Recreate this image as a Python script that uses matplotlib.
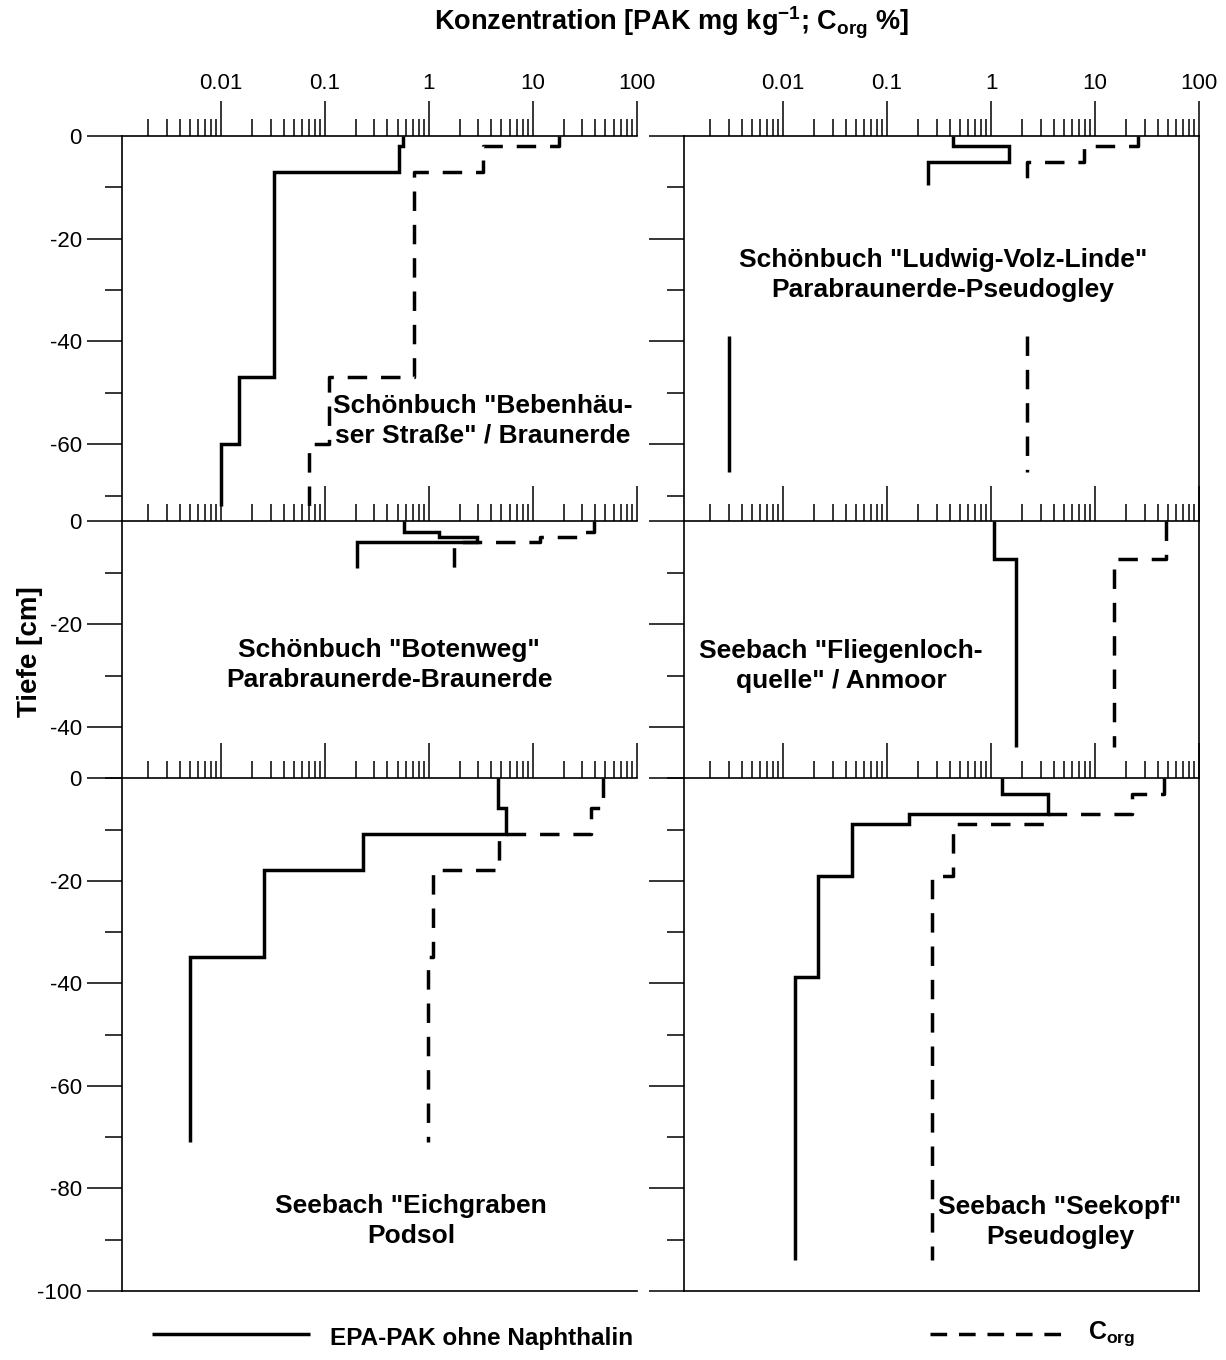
import numpy as np
import matplotlib
matplotlib.use("Agg")
import matplotlib.pyplot as plt
from matplotlib.lines import Line2D
from matplotlib.ticker import LogLocator, MultipleLocator, FuncFormatter, NullFormatter

plt.rcParams['font.family'] = ['Liberation Sans', 'DejaVu Sans']
plt.rcParams['mathtext.fontset'] = 'custom'
plt.rcParams['mathtext.rm'] = 'Liberation Sans'
plt.rcParams['mathtext.bf'] = 'Liberation Sans:bold'
plt.rcParams['lines.scale_dashes'] = False

# ---- soil profiles: horizon boundaries [cm] and concentrations ----
# Schönbuch "Bebenhäuser Straße" / Braunerde
beb_depth = [0, -2, -7, -47, -60, -72]
beb_pak = [0.57, 0.52, 0.032, 0.015, 0.010]
beb_corg = [17.9, 3.3, 0.72, 0.11, 0.070]

# Schönbuch "Ludwig-Volz-Linde" / Parabraunerde-Pseudogley (two sampled sections)
lvl_depth_top = [0, -2, -5, -9.5]
lvl_pak_top = [0.43, 1.48, 0.245]
lvl_corg_top = [25.8, 7.8, 2.2]
lvl_depth_deep = [-39, -65.5]
lvl_pak_deep = [0.0030]
lvl_corg_deep = [2.2]

# Schönbuch "Botenweg" / Parabraunerde-Braunerde
bot_depth = [0, -2, -3, -4, -9]
bot_pak = [0.58, 1.26, 2.9, 0.205]
bot_corg = [39.0, 28.6, 11.8, 1.75]

# Seebach "Fliegenlochquelle" / Anmoor
fli_depth = [0, -7.4, -44]
fli_pak = [1.06, 1.75]
fli_corg = [48.0, 15.1]

# Seebach "Eichgraben" / Podsol
eic_depth = [0, -5.8, -10.9, -17.9, -34.9, -71]
eic_pak = [4.65, 5.5, 0.233, 0.026, 0.0050]
eic_corg = [47.3, 36.3, 4.75, 1.09, 0.985]

# Seebach "Seekopf" / Pseudogley
see_depth_pak = [0, -3, -6.9, -9, -19, -38.8, -94]
see_pak = [1.28, 3.51, 0.164, 0.046, 0.0218, 0.0131]
see_depth_corg = [0, -3, -6.9, -9, -19, -94]
see_corg = [46.0, 22.5, 3.51, 0.433, 0.272]

panel_titles = [
    'Schönbuch "Bebenhäu-\nser Straße" / Braunerde',
    'Schönbuch "Ludwig-Volz-Linde"\nParabraunerde-Pseudogley',
    'Schönbuch "Botenweg"\nParabraunerde-Braunerde',
    'Seebach "Fliegenloch-\nquelle" / Anmoor',
    'Seebach "Eichgraben\nPodsol',
    'Seebach "Seekopf"\nPseudogley',
]
row_depths = [75, 50, 100]
x_range = (0.001114, 100)

W, H = 1226, 1360
fig = plt.figure(figsize=(W / 100, H / 100), dpi=100)


def px_axes(x0, y0, x1, y1):
    return fig.add_axes([x0 / W, 1 - y1 / H, (x1 - x0) / W, (y1 - y0) / H])


def step_xy(bounds, values):
    b = np.asarray(bounds, float)
    v = np.asarray(values, float)
    ys = np.column_stack([b[:-1], b[1:]]).ravel()
    xs = np.repeat(v, 2)
    return xs, ys


SOLID = dict(color='black', lw=2.5, solid_joinstyle='miter', solid_capstyle='butt')
DASHED = dict(color='black', lw=2.5, linestyle=(0, (14, 10)), dash_capstyle='butt')

cols = [(122, 636.6), (684, 1199)]
rows = [(136, 521.3), (521.3, 778.3), (778.3, 1291)]

axes = []
for r, (y0, y1) in enumerate(rows):
    for c, (x0, x1) in enumerate(cols):
        ax = px_axes(x0, y0, x1, y1)
        ax.set_xscale('log')
        ax.set_xlim(*x_range)
        ax.set_ylim(-row_depths[r], 0)
        ax.patch.set_alpha(0)
        for s in ax.spines.values():
            s.set_linewidth(1.2)
        ax.spines['bottom'].set_visible(r == 2)
        ax.spines['right'].set_visible(c == 1)
        ax.xaxis.set_major_locator(LogLocator(base=10, numticks=12))
        ax.xaxis.set_minor_locator(LogLocator(base=10, subs=np.arange(2, 10), numticks=12))
        ax.xaxis.set_major_formatter(FuncFormatter(lambda v, p: f"{v:g}"))
        ax.xaxis.set_minor_formatter(NullFormatter())
        ax.yaxis.set_major_locator(MultipleLocator(20))
        ax.yaxis.set_minor_locator(MultipleLocator(10))
        ax.yaxis.set_major_formatter(FuncFormatter(lambda v, p: f"{int(round(v))}"))
        ax.tick_params(axis='x', which='both', direction='out', top=True, bottom=False,
                       labeltop=(r == 0), labelbottom=False, width=1.1, labelsize=16, pad=5)
        ax.tick_params(axis='x', which='major', length=25)
        ax.tick_params(axis='x', which='minor', length=12.5)
        ax.tick_params(axis='y', which='both', direction='out', left=True, right=False,
                       labelleft=(c == 0), width=1.1, labelsize=16, pad=4)
        ax.tick_params(axis='y', which='major', length=25)
        ax.tick_params(axis='y', which='minor', length=12.5)
        axes.append(ax)


def draw(ax, bounds, pak, corg, bounds_corg=None):
    xs, ys = step_xy(bounds, pak)
    ax.plot(xs, ys, **SOLID)
    xs, ys = step_xy(bounds if bounds_corg is None else bounds_corg, corg)
    ax.plot(xs, ys, **DASHED)


draw(axes[0], beb_depth, beb_pak, beb_corg)
draw(axes[1], lvl_depth_top, lvl_pak_top, lvl_corg_top)
draw(axes[1], lvl_depth_deep, lvl_pak_deep, lvl_corg_deep)
draw(axes[2], bot_depth, bot_pak, bot_corg)
draw(axes[3], fli_depth, fli_pak, fli_corg)
draw(axes[4], eic_depth, eic_pak, eic_corg)
draw(axes[5], see_depth_pak, see_pak, see_corg, see_depth_corg)

# site labels (figure pixel positions of the text centres)
label_pos = [(483, 421), (943, 275), (389, 665), (841, 666), (411, 1221), (1060, 1222)]
for (lx, ly), txt in zip(label_pos, panel_titles):
    fig.text(lx / W, 1 - ly / H, txt, ha='center', va='center', fontsize=19,
             fontweight='bold', linespacing=1.28)

fig.text(672 / W, 1 - 23 / H,
         r'Konzentration [PAK mg kg$^{\mathbf{-1}}$; C$_{\mathbf{org}}$ %]',
         ha='center', va='center', fontsize=19.5, fontweight='bold')
fig.text(30 / W, 1 - 652 / H, 'Tiefe [cm]', rotation=90, ha='center', va='center',
         fontsize=20, fontweight='bold')

# legend
LEG_DASHED = dict(DASHED, linestyle=(0, (12, 8.5)))
fig.add_artist(Line2D([152 / W, 310 / W], [1 - 1334 / H, 1 - 1334 / H], **SOLID))
fig.add_artist(Line2D([930 / W, 1070 / W], [1 - 1334 / H, 1 - 1334 / H], **LEG_DASHED))
fig.text(330 / W, 1 - 1338 / H, 'EPA-PAK ohne Naphthalin', ha='left', va='center',
         fontsize=17.5, fontweight='bold')
fig.text(1088 / W, 1 - 1334 / H, r'C$_{\mathbf{org}}$', ha='left', va='center',
         fontsize=18, fontweight='bold')

fig.savefig('out.png', dpi=100)
